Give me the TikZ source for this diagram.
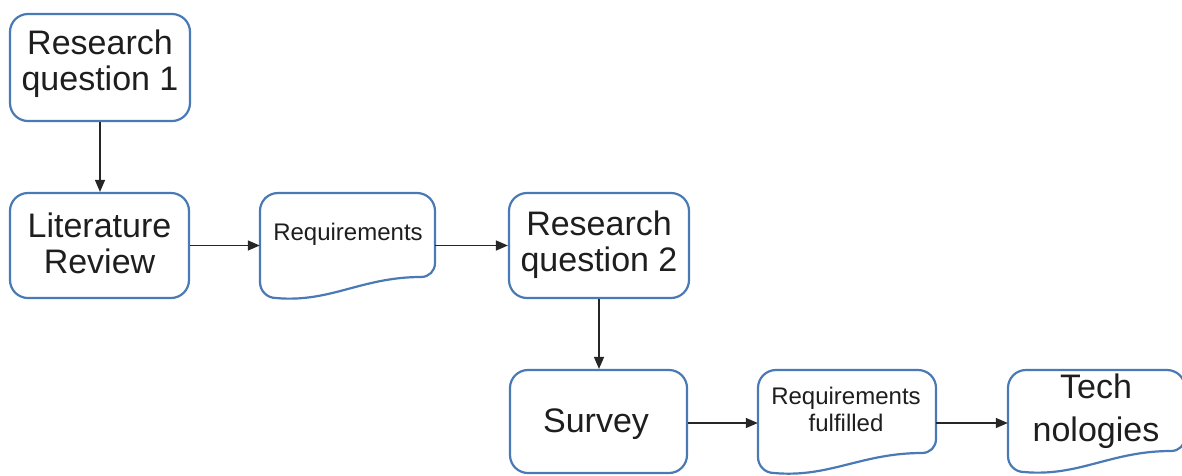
\documentclass[tikz,border=0pt]{standalone}
\usepackage{fontspec}
\setmainfont{Liberation Sans}
\usetikzlibrary{arrows.meta}
\definecolor{boxblue}{RGB}{74,122,182}
\definecolor{txt}{RGB}{30,30,30}
\tikzset{
  boxline/.style={draw=boxblue, line width=2.2pt, fill=white},
  rbox/.style={boxline, rounded corners=18pt, inner sep=0pt, align=center,
    font=\fontsize{34}{36}\selectfont, text=txt},
  docnode/.style={draw=none, inner sep=0pt},
  bigtext/.style={inner sep=0pt, align=center, font=\fontsize{34}{36}\selectfont, text=txt},
  smalltext/.style={inner sep=0pt, align=center, font=\fontsize{24}{27}\selectfont, text=txt},
  flow/.style={draw=black!85, line width=1.4pt, -{Triangle[length=12pt,width=10pt]}}
}
\newcommand\docshape[5]{% L T R B(left low) Bq(right)
  \draw[boxline] ({#1+18},#2) -- ({#3-18},#2)
    .. controls ({#3-8},#2) and (#3,{#2+8}) .. (#3,{#2+18})
    -- (#3,{#5-14})
    .. controls (#3,{#5-6}) and ({#3-6},#5) .. ({#3-14},#5)
    .. controls ({#3-0.42*(#3-#1)},#5) and ({#1+0.4*(#3-#1)},{#4+5}) .. ({#1+16},#4)
    .. controls ({#1+7},#4) and (#1,{#4-7}) .. (#1,{#4-16})
    -- (#1,{#2+18})
    .. controls (#1,{#2+8}) and ({#1+8},#2) .. ({#1+18},#2) -- cycle;
}
\begin{document}
\begin{tikzpicture}[x=1pt,y=-1pt]
\useasboundingbox (0,0) rectangle (1182,475);
\clip (0,0) rectangle (1182,475);
\fill[white] (0,0) rectangle (1182,475);

% rounded boxes
\node[rbox, minimum width=180pt, minimum height=107pt] (rq1) at (100,67.5) {};
\node[bigtext] (rq1t) at (100,64) {Research\\question 1};

\node[rbox, minimum width=179pt, minimum height=105pt] (lit) at (99.5,245.5) {};
\node[bigtext] (litt) at (99.5,243) {Literature\\Review};

\node[rbox, minimum width=180pt, minimum height=105pt] (rq2) at (599,245.5) {};
\node[bigtext] (rq2t) at (599,245) {Research\\question 2};

\node[rbox, minimum width=177pt, minimum height=103pt] (survey) at (598.5,421.5) {};
\node[bigtext, anchor=base] (surveyt) at (596,432) {Survey};

% document shapes
\docshape{260}{193}{435}{298}{277}
\node[docnode, minimum width=175pt, minimum height=105pt] (req) at (347.5,245.5) {};
\node[smalltext, anchor=base] (reqt) at (348,240) {Requirements};

\docshape{758}{370}{936}{473}{453}
\node[docnode, minimum width=178pt, minimum height=103pt] (rf) at (847,421.5) {};
\node[smalltext] (rft) at (846,409) {Requirements\\fulfilled};

\docshape{1008}{370}{1185}{472}{451}
\node[docnode, minimum width=177pt, minimum height=102pt] (tech) at (1096.5,421) {};
\node[bigtext, font=\fontsize{34}{43}\selectfont] (techt) at (1096,411) {Tech\\nologies};

% connectors
\draw[flow] (rq1.south) -- (rq1.south |- lit.north);
\draw[flow] (lit.east) -- (req.west);
\draw[flow] (req.east) -- (rq2.west);
\draw[flow] (rq2.south) -- (rq2.south |- survey.north);
\draw[flow] ([yshift=-1.5pt]survey.east) -- ([yshift=-1.5pt]rf.west);
\draw[flow] ([yshift=-1.5pt]rf.east) -- ([yshift=-1.5pt]rf.east -| tech.west);
\end{tikzpicture}
\end{document}
